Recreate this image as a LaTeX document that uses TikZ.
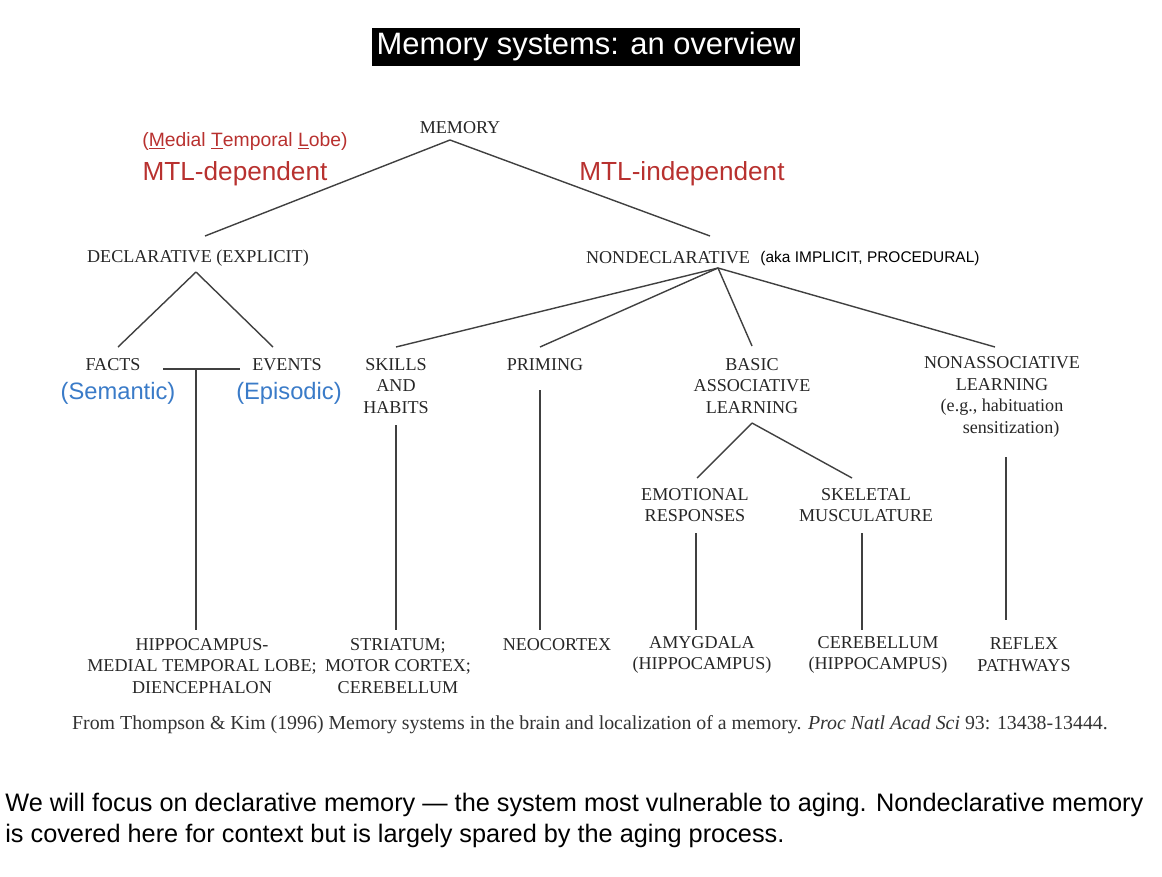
\documentclass[tikz,border=0pt]{standalone}
\usepackage{fontspec}
\setmainfont{Liberation Serif}
\newfontfamily\sansf{Liberation Sans}
\usepackage{xcolor}
\definecolor{mtlred}{HTML}{B8312F}
\definecolor{mtlblue}{HTML}{3A7BC8}
\begin{document}
\begin{tikzpicture}[x=0.02cm,y=-0.02cm,
  box/.style={align=center,font=\fontsize{10.3}{12.3}\selectfont,inner sep=1pt,text=black!85},
  redlab/.style={font=\sansf\fontsize{14.9}{16}\selectfont,text=mtlred,inner sep=0pt},
  bluelab/.style={font=\sansf\fontsize{13.5}{15}\selectfont,text=mtlblue,inner sep=0pt},
  branch/.style={draw=black!75,line width=0.8pt}]

\useasboundingbox (0,0) rectangle (1162,876);

% Title
\node[fill=black,text=white,font=\sansf\fontsize{17.6}{19}\selectfont,inner sep=2.5pt] (title) at (586,47) {Memory systems: an overview};

% Top level
\node[box] (memory) at (460,128) {MEMORY};
\node[font=\sansf\fontsize{11}{12}\selectfont,text=mtlred,inner sep=0pt] (mtlname) at (245,141)
  {(\underline{M}edial \underline{T}emporal \underline{L}obe)};
\node[redlab] (mtldep) at (235,174) {MTL-dependent};
\node[redlab] (mtlind) at (682,174) {MTL-independent};

% Second level
\node[box] (decl) at (198,258) {DECLARATIVE (EXPLICIT)};
\node[box] (nondecl) at (668,258) {NONDECLARATIVE};
\node[font=\sansf\fontsize{8.8}{10}\selectfont,inner sep=0pt] (aka) at (870,258) {(aka IMPLICIT, PROCEDURAL)};

\draw[branch] (450,140) -- (205,236);
\draw[branch] (450,140) -- (710,236);

% Declarative branch
\node[box] (facts) at (113,365) {FACTS};
\node[box] (events) at (287,365) {EVENTS};
\node[bluelab] (sem) at (118,393) {(Semantic)};
\node[bluelab] (epi) at (289,393) {(Episodic)};
\draw[branch] (196,272) -- (118,347);
\draw[branch] (196,272) -- (273,347);
\coordinate (factsjoin) at (196,369);
\draw[branch] (163,369) -- (240,369);

% Nondeclarative branch
\node[box] (skills) at (396,386) {SKILLS\\AND\\HABITS};
\node[box] (priming) at (545,365) {PRIMING};
\node[box] (basic) at (752,386) {BASIC\\ASSOCIATIVE\\LEARNING};
\node[box] (nonassoc) at (1002,397) {NONASSOCIATIVE\\LEARNING\\(e.g., habituation\\\hspace{1em}sensitization)};
\coordinate (ndtop) at (718,268);
\draw[branch] (ndtop) -- (396,347);
\draw[branch] (ndtop) -- (540,347);
\draw[branch] (ndtop) -- (752,346);
\draw[branch] (ndtop) -- (995,347);

\node[box] (emot) at (695,505) {EMOTIONAL\\RESPONSES};
\node[box] (skel) at (866,505) {SKELETAL\\MUSCULATURE};
\coordinate (basictop) at (752,423);
\draw[branch] (basictop) -- (697,478);
\draw[branch] (basictop) -- (852,478);

% Brain structures
\node[box] (hippo) at (202,666) {HIPPOCAMPUS-\\MEDIAL TEMPORAL LOBE;\\DIENCEPHALON};
\node[box] (striat) at (398,666) {STRIATUM;\\MOTOR CORTEX;\\CEREBELLUM};
\node[box] (neo) at (557,645) {NEOCORTEX};
\node[box] (amyg) at (702,655) {AMYGDALA\\(HIPPOCAMPUS)};
\node[box] (cereb) at (878,655) {CEREBELLUM\\(HIPPOCAMPUS)};
\node[box] (reflex) at (1024,655) {REFLEX\\PATHWAYS};

\draw[branch] (factsjoin) -- (196,630);
\draw[branch] (396,425) -- (396,630);
\draw[branch] (540,390) -- (540,630);
\draw[branch] (696,533) -- (696,630);
\draw[branch] (862,533) -- (862,630);
\draw[branch] (1006,457) -- (1006,620);

% Source
\node[font=\fontsize{11.3}{12}\selectfont,text=black!80,inner sep=0pt] (cite) at (590,725)
  {From Thompson \& Kim (1996) Memory systems in the brain and localization of a memory. \textit{Proc Natl Acad Sci} 93: 13438-13444.};

% Note
\node[font=\sansf\fontsize{14.4}{17.5}\selectfont,align=left,anchor=north west,inner sep=0pt] (note) at (5,793)
  {We will focus on declarative memory — the system most vulnerable to aging. Nondeclarative memory\\is covered here for context but is largely spared by the aging process.};
\end{tikzpicture}
\end{document}
